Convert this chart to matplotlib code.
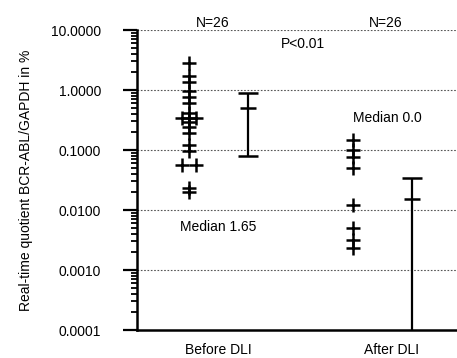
import matplotlib
matplotlib.use('Agg')
import matplotlib.pyplot as plt
import numpy as np

plt.rcParams['font.family'] = ['Liberation Sans', 'DejaVu Sans']

# Data
groups = ['Before DLI', 'After DLI']
group_pos = [1.0, 2.0]
n_labels = ['N=26', 'N=26']

before_vals = [2.82, 1.71, 1.36, 0.96, 0.76, 0.61, 0.41, 0.34, 0.34, 0.34,
               0.29, 0.24, 0.19, 0.12, 0.096, 0.056, 0.056, 0.023, 0.020]
before_dx = [0, 0, 0, 0, 0, 0, 0, -0.04, 0, 0.04,
             0, 0, 0, 0, 0, -0.04, 0.04, 0, 0]
after_vals = [0.147, 0.10, 0.076, 0.05, 0.0121, 0.005, 0.0032, 0.0023]

marker_offset = [-0.17, -0.22]
bar_offset = [0.17, 0.12]

# error bars: median, low, high
bar_median = [0.50, 0.0152]
bar_low = [0.08, 0.00001]
bar_high = [0.89, 0.034]

median_texts = ['Median 1.65', 'Median 0.0']
median_text_y = [0.0052, 0.34]
median_text_x = [1.0, 1.98]

fig = plt.figure(figsize=(4.57, 3.58), dpi=100)
ax = fig.add_axes([0.300, 0.078, 0.700, 0.838])
ax.set_yscale('log')
ax.set_ylim(0.0001, 10)
ax.set_xlim(0.532, 2.38)

# dotted grid lines at decades
for v in [10, 1, 0.1, 0.01, 0.001]:
    ax.axhline(v, color='#555555', lw=0.8, ls=(0, (1.5, 1.5)), zorder=1)

# individual points
ax.plot([group_pos[0] + marker_offset[0] + d for d in before_dx], before_vals,
        '+', color='black', ms=9.5, mew=1.8, zorder=3)
ax.plot([group_pos[1] + marker_offset[1]] * len(after_vals), after_vals,
        '+', color='black', ms=9.5, mew=1.8, zorder=3)

# median and range bars
for i in range(2):
    x = group_pos[i] + bar_offset[i]
    ax.errorbar([x], [bar_median[i]],
                yerr=[[bar_median[i] - bar_low[i]], [bar_high[i] - bar_median[i]]],
                fmt='_', color='black', ms=11.5, mew=1.8, elinewidth=1.6,
                capsize=7.5, capthick=1.8, zorder=3)

for i in range(2):
    ax.text(median_text_x[i], median_text_y[i], median_texts[i],
            ha='center', va='center', fontsize=10)
    ax.text(group_pos[i] - 0.03, 1.0, n_labels[i], transform=ax.get_xaxis_transform(),
            ha='center', va='bottom', fontsize=10)
ax.text(1.49, 10 ** (46 / 60), 'P<0.01', ha='center', va='center', fontsize=10)

ax.set_xticks(group_pos)
ax.set_xticklabels(groups, fontsize=10)
ax.tick_params(axis='x', length=0, pad=9)

ax.set_yticks([0.0001, 0.001, 0.01, 0.1, 1, 10])
ax.set_yticklabels(['0.0001', '0.0010', '0.0100', '0.1000', '1.0000', '10.0000'], fontsize=10)
ax.yaxis.set_minor_locator(matplotlib.ticker.LogLocator(base=10, subs=np.arange(2, 10)))
ax.yaxis.set_minor_formatter(matplotlib.ticker.NullFormatter())
ax.tick_params(axis='y', which='major', length=10, width=1.6, pad=16)
ax.tick_params(axis='y', which='minor', length=4, width=1.3)

ax.set_ylabel('Real-time quotient BCR-ABL/GAPDH in %', fontsize=10, labelpad=13)

ax.spines['top'].set_visible(False)
ax.spines['right'].set_visible(False)
ax.spines['left'].set_linewidth(1.8)
ax.spines['bottom'].set_linewidth(1.8)

fig.savefig('out.png', dpi=100)
